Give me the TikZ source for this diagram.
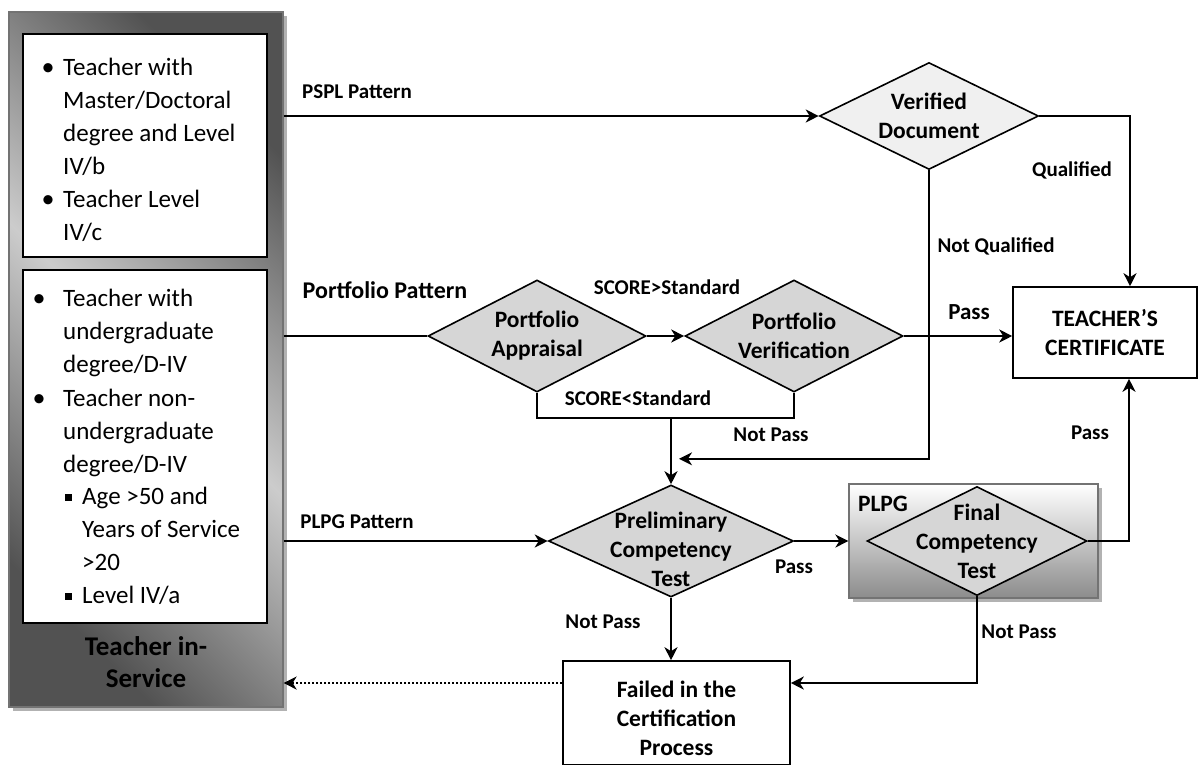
\documentclass[tikz,border=0pt]{standalone}
\usepackage{fontspec}
\setmainfont{Carlito}
\usetikzlibrary{calc,shapes.geometric,shadows,arrows.meta}

\tikzset{
  decision/.style={diamond, draw, line width=1.6pt, fill=black!16, inner sep=0pt},
  dtext/.style={font=\fontsize{23.5}{29}\selectfont\bfseries, align=center, inner sep=0pt},
  outcome/.style={rectangle, draw, line width=1.6pt, fill=white},
  listbox/.style={rectangle, draw, line width=1.6pt, fill=white, minimum width=244pt},
  listtext/.style={font=\fontsize{25}{33}\selectfont, align=left, anchor=north west, inner sep=0pt},
  bul/.style={font=\fontsize{26}{26}\selectfont, anchor=base, inner sep=0pt},
  lbl/.style={font=\fontsize{21}{25}\selectfont\bfseries, inner sep=0pt},
  link/.style={line width=2pt},
  arr/.style={line width=2pt, -{Stealth[length=13pt,width=13pt,inset=4pt]}},
  softshadow/.style={drop shadow={shadow xshift=4pt, shadow yshift=-4pt, fill=black!30, opacity=1}},
}
\newcommand{\ls}{\rule{0pt}{20pt}}

\begin{document}
\begin{tikzpicture}[x=1pt, y=-1pt]
  \useasboundingbox (0,0) rectangle (1198,764);

  %%%%% teachers in service %%%%%
  \node[draw=black!55, line width=1.2pt, minimum width=274pt, minimum height=695pt,
    top color=black!68, bottom color=black!68, middle color=black!20, shading angle=-45,
    softshadow] (inservice) at (146,359.5) {};

  \node[listbox, minimum height=223pt] (group1) at (145,145.5) {};
  \node[bul] (b1) at (48,75) {\textbullet};
  \node[listtext] (g1a) at (63,55) {\ls Teacher with\\Master/Doctoral\\degree and Level\\IV/b};
  \node[bul] (b2) at (48,207) {\textbullet};
  \node[listtext] (g1b) at (63,187) {\ls Teacher Level\\IV/c};

  \node[listbox, minimum height=353pt] (group2) at (145,446.5) {};
  \node[bul] (b3) at (39,306) {\textbullet};
  \node[listtext] (g2a) at (63,286) {\ls Teacher with\\undergraduate\\degree/D-IV};
  \node[bul] (b4) at (39,406) {\textbullet};
  \node[listtext] (g2b) at (63,386) {\ls Teacher non-\\undergraduate\\degree/D-IV};
  \node[bul] (b5) at (68,504) {\raisebox{3pt}{\rule{7pt}{7pt}}};
  \node[listtext] (g2c) at (82,484) {\ls Age >50 and\\Years of Service\\>20};
  \node[bul] (b6) at (68,603) {\raisebox{3pt}{\rule{7pt}{7pt}}};
  \node[listtext] (g2d) at (82,583) {\ls Level IV/a};

  \node[font=\fontsize{27}{32}\selectfont\bfseries, align=center] (svc) at (146,662) {Teacher in-\\Service};

  %%%%% decisions %%%%%
  \node[decision, fill=black!6, minimum width=219pt, minimum height=107pt,
    label={[dtext]center:Verified\\Document}] (verified) at (929,116) {};
  \node[decision, minimum width=218pt, minimum height=112pt,
    label={[dtext]center:Portfolio\\Appraisal}] (appraisal) at (537,336) {};
  \node[decision, minimum width=218pt, minimum height=112pt,
    label={[dtext]center:Portfolio\\Verification}] (verification) at (794,336) {};
  \node[decision, minimum width=245pt, minimum height=112pt,
    label={[dtext, yshift=-8pt]center:Preliminary\\Competency\\Test}] (prelim) at (671,541) {};

  \node[draw=black!55, line width=1.2pt, minimum width=249pt, minimum height=114pt,
    top color=white, bottom color=black!45, softshadow] (plpg) at (973.5,541) {};
  \node[dtext] (plpgtag) at (883,504) {PLPG};
  \node[decision, minimum width=220pt, minimum height=109pt,
    label={[dtext]center:Final\\Competency\\Test}] (final) at (977,541) {};

  %%%%% outcomes %%%%%
  \node[outcome, minimum width=184pt, minimum height=91pt,
    label={[dtext]center:TEACHER’S\\CERTIFICATE}] (certificate) at (1105,332.5) {};
  \node[outcome, minimum width=227pt, minimum height=104pt,
    label={[dtext, yshift=-5pt]center:Failed in the\\Certification\\Process}] (failed) at (676.5,713) {};

  %%%%% connectors %%%%%
  \coordinate (join) at ($(appraisal.south -| prelim.north)+(0,25)$);
  \coordinate (nqend) at ($(join)+(8,41)$);

  \draw[arr] (inservice.east |- verified.west) -- (verified.west);
  \draw[arr] (verified.east) -| ([xshift=25pt]certificate.north);
  \draw[arr] (verified.south) |- (nqend);

  \draw[link] (inservice.east |- appraisal.west) -- (appraisal.west);
  \draw[arr] (appraisal.east) -- (verification.west);
  \draw[link] (appraisal.south) |- (join) -| (verification.south);
  \draw[arr] (verification.east) -- (verification.east -| certificate.west);
  \draw[arr] (join) -- (prelim.north);

  \draw[arr] (inservice.east |- prelim.west) -- (prelim.west);
  \draw[arr] (prelim.east) -- (prelim.east -| plpg.west);
  \draw[arr] (prelim.south) -- (prelim.south |- failed.north);
  \draw[arr] (final.east) -| ([xshift=24pt]certificate.south);
  \draw[arr] (final.south) |- ([yshift=30pt]failed.east);
  \draw[arr, dotted] ([yshift=30pt]failed.west) -- ([yshift=30pt]failed.west -| inservice.east);

  %%%%% labels %%%%%
  \node[lbl] (lpspl) at (357,92) {PSPL Pattern};
  \node[lbl, font=\fontsize{24}{28}\selectfont\bfseries] (lport) at (385,290) {Portfolio Pattern};
  \node[lbl] (lplpg) at (357,522) {PLPG Pattern};
  \node[lbl] (lhigh) at (667,287) {SCORE>Standard};
  \node[lbl] (llow) at (638,398) {SCORE<Standard};
  \node[lbl] (lnp1) at (771,435) {Not Pass};
  \node[lbl] (lqual) at (1072,170) {Qualified};
  \node[lbl] (lnq) at (996,246) {Not Qualified};
  \node[lbl, font=\fontsize{23}{28}\selectfont\bfseries] (lpass1) at (969,312) {Pass};
  \node[lbl] (lpass2) at (794,567) {Pass};
  \node[lbl] (lpass3) at (1090,433) {Pass};
  \node[lbl] (lnp2) at (603,622) {Not Pass};
  \node[lbl] (lnp3) at (1019,632) {Not Pass};
\end{tikzpicture}
\end{document}
